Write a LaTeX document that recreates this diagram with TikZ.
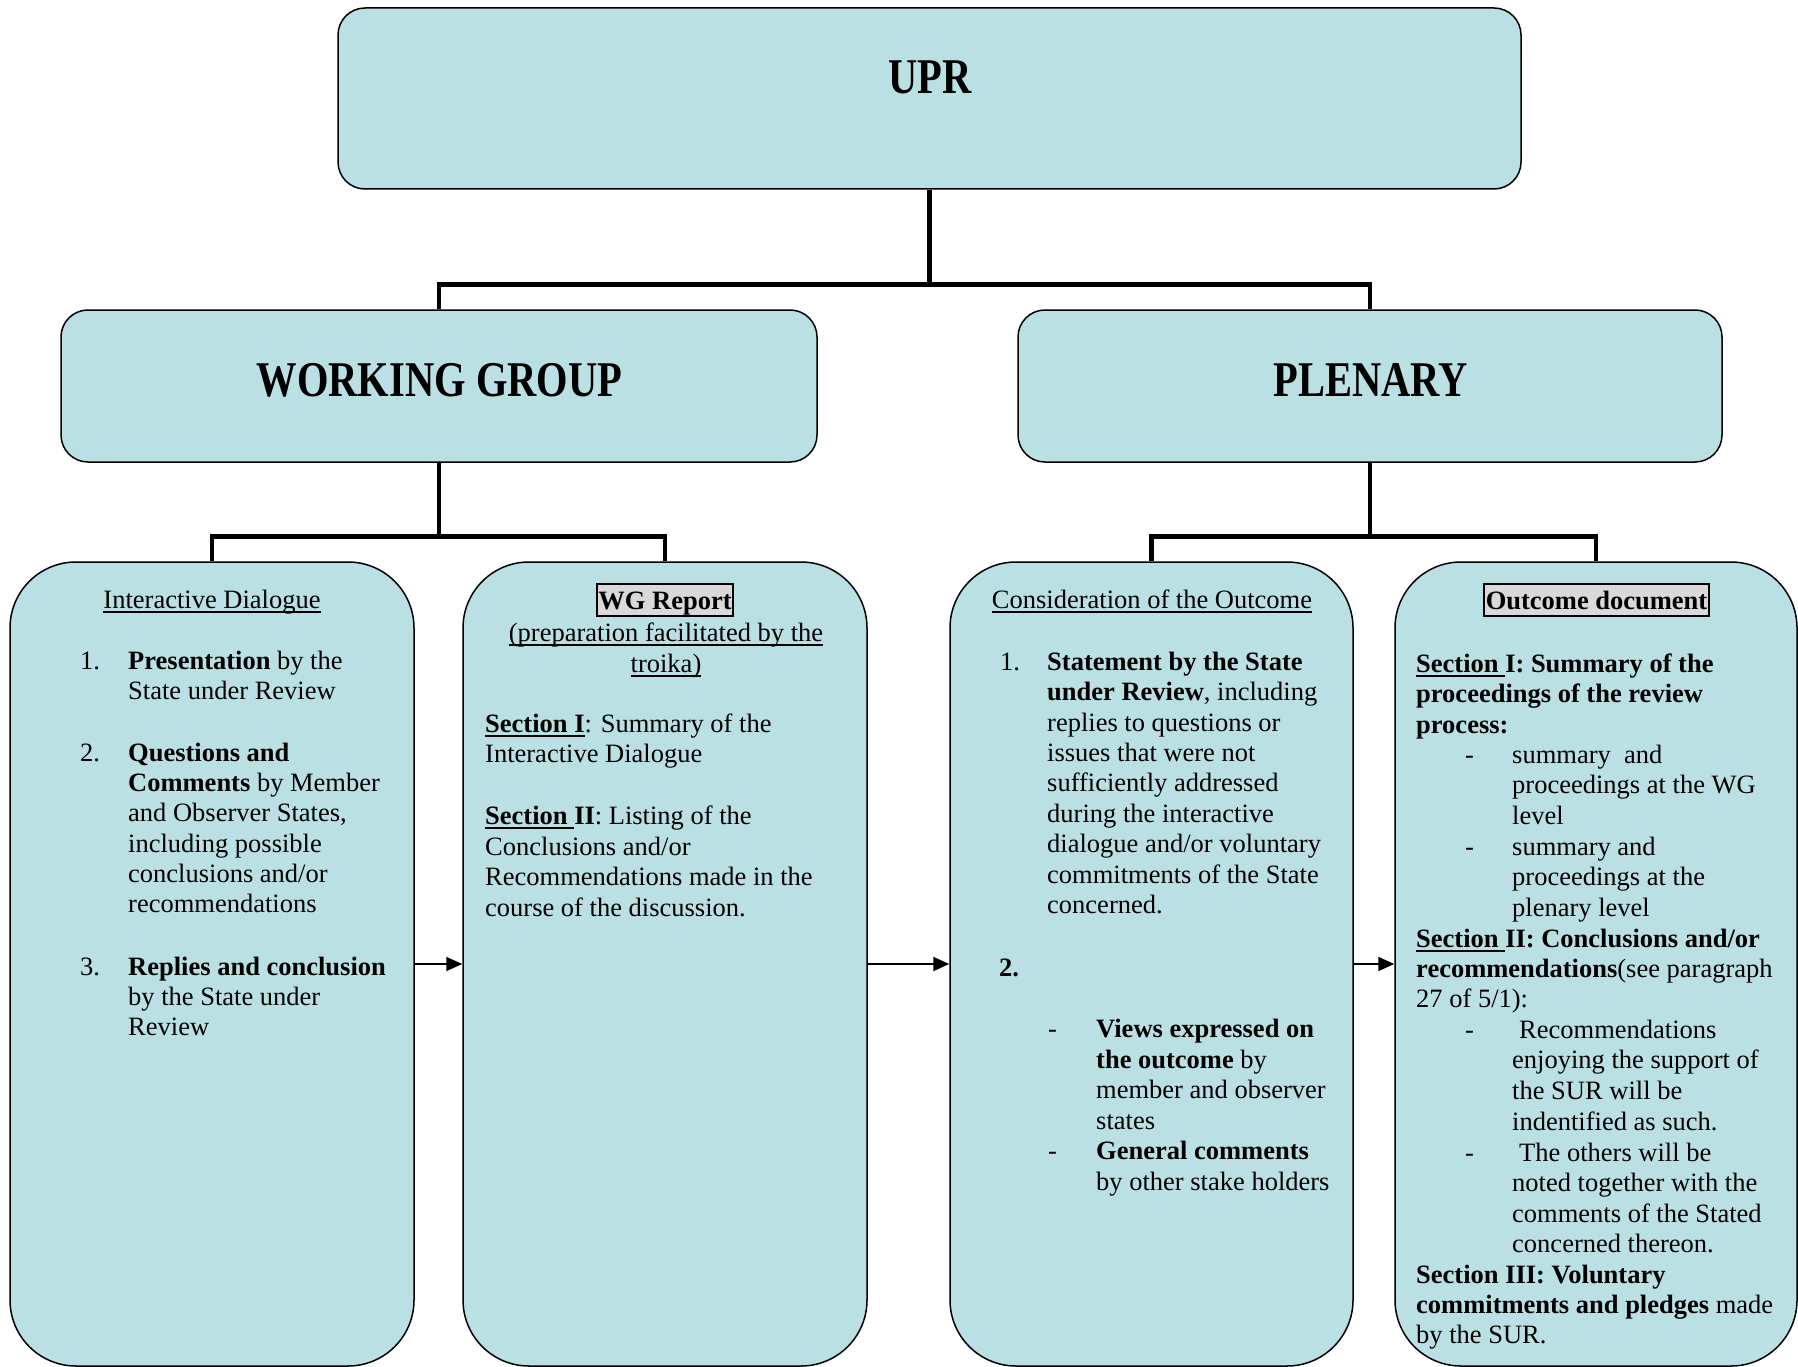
\documentclass[tikz,border=0pt]{standalone}
\usepackage{fontspec}
\setmainfont{Liberation Serif}
\newfontfamily\titlefont{Liberation Serif}[FakeStretch=0.81]
\usetikzlibrary{arrows.meta}
\definecolor{boxfill}{RGB}{186,224,227}
\definecolor{hlgray}{RGB}{217,217,217}
\newsavebox\ulbox
\newcommand\myul[1]{\sbox\ulbox{#1}\rlap{\rule[-5pt]{\wd\ulbox}{1.8pt}}\usebox\ulbox}
\newcounter{tl}
\newcommand\txtline[3]{\stepcounter{tl}\node[txt] (tl\arabic{tl}) at (#1,#2) {#3};}
\begin{document}
\begin{tikzpicture}[x=1pt,y=-1pt,
  body/.style={font=\fontsize{26.5}{30.4}\selectfont},
  txt/.style={body, anchor=base west, inner sep=0},
  ttl/.style={body, anchor=base, inner sep=0},
  bigttl/.style={anchor=base, inner sep=0, font=\titlefont\bfseries\fontsize{50}{52}\selectfont},
  topbox/.style={draw=black, line width=1.5pt, fill=boxfill, inner sep=0, rounded corners=27},
  colbox/.style={draw=black, line width=1.5pt, fill=boxfill, inner sep=0, rounded corners=66, minimum height=804},
  hl/.style={body, anchor=base, draw=black, line width=2pt, fill=hlgray, inner sep=0, text height=25, text depth=7},
  tree/.style={line width=4.8pt, line join=miter},
  arr/.style={line width=1.8pt, -{Triangle[length=16pt,width=14pt]}}]
\useasboundingbox (0,0) rectangle (1798,1367);

% top level boxes
\node[topbox, minimum width=1183, minimum height=181] (upr) at (929.5,98.5) {};
\node[topbox, minimum width=756, minimum height=152] (wg) at (439,386) {};
\node[topbox, minimum width=704, minimum height=152] (pl) at (1370,386) {};

% column boxes
\node[colbox, minimum width=404] (c1) at (212,964) {};
\node[colbox, minimum width=404] (c2) at (665,964) {};
\node[colbox, minimum width=403] (c3) at (1151.5,964) {};
\node[colbox, minimum width=402] (c4) at (1596,964) {};

% tree connectors
\draw[tree] (upr.south) -- ++(0,96);
\draw[tree] (wg.north) -- ++(0,-25) -| (pl.north);
\draw[tree] (wg.south) -- ++(0,75);
\draw[tree] (c1.north) -- ++(0,-25) -| (c2.north);
\draw[tree] (pl.south) -- ++(0,75);
\draw[tree] (c3.north) -- ++(0,-25) -| (c4.north);

% arrows
\draw[arr] (c1) -- (c2);
\draw[arr] (c2) -- (c3);
\draw[arr] (c3) -- (c4);

% titles
\node[bigttl] (uprt) at (930,94) {UPR};
\node[bigttl] (wgt) at (439.5,396) {WORKING GROUP};
\node[bigttl] (plt) at (1370.5,396) {PLENARY};

% column 1
\node[ttl] (c1t) at (212,608) {\myul{Interactive Dialogue}};
\txtline{80}{669}{1.}
\txtline{128}{669}{\textbf{Presentation} by the}
\txtline{128}{699}{State under Review}
\txtline{80}{761}{2.}
\txtline{128}{761}{\textbf{Questions and}}
\txtline{128}{791}{\textbf{Comments} by Member}
\txtline{128}{821}{and Observer States,}
\txtline{128}{852}{including possible}
\txtline{128}{882}{conclusions and/or}
\txtline{128}{912}{recommendations}
\txtline{80}{975}{3.}
\txtline{128}{975}{\textbf{Replies and conclusion}}
\txtline{128}{1005}{by the State under}
\txtline{128}{1035}{Review}

% column 2
\node[hl, minimum width=136] (wgr) at (665,609) {\textbf{WG Report}};
\node[ttl] (c2t1) at (666,641) {\myul{(preparation facilitated by the}};
\node[ttl] (c2t2) at (666,672) {\myul{troika)}};
\txtline{485}{732}{\myul{\textbf{Section I}}: Summary of the}
\txtline{485}{762}{Interactive Dialogue}
\txtline{485}{824}{\myul{\textbf{Section\ }}\textbf{II}: Listing of the}
\txtline{485}{855}{Conclusions and/or}
\txtline{485}{885}{Recommendations made in the}
\txtline{485}{916}{course of the discussion.}

% column 3
\node[ttl] (c3t) at (1152,608) {\myul{Consideration of the Outcome}};
\txtline{1000}{670}{1.}
\txtline{1047}{670}{\textbf{Statement by the State}}
\txtline{1047}{700}{\textbf{under Review}, including}
\txtline{1047}{731}{replies to questions or}
\txtline{1047}{761}{issues that were not}
\txtline{1047}{791}{sufficiently addressed}
\txtline{1047}{822}{during the interactive}
\txtline{1047}{852}{dialogue and/or voluntary}
\txtline{1047}{883}{commitments of the State}
\txtline{1047}{913}{concerned.}
\txtline{999}{976}{\textbf{2.}}
\txtline{1048}{1037}{-}
\txtline{1096}{1037}{\textbf{Views expressed on}}
\txtline{1096}{1068}{\textbf{the outcome} by}
\txtline{1096}{1098}{member and observer}
\txtline{1096}{1129}{states}
\txtline{1048}{1159}{-}
\txtline{1096}{1159}{\textbf{General comments}}
\txtline{1096}{1190}{by other stake holders}

% column 4
\node[hl, minimum width=225] (ocd) at (1596.5,609) {\textbf{Outcome document}};
\txtline{1416}{672}{\myul{\textbf{Section\ }}\textbf{I: Summary of the}}
\txtline{1416}{702}{\textbf{proceedings of the review}}
\txtline{1416}{733}{\textbf{process:}}
\txtline{1465}{763}{-}
\txtline{1512}{763}{summary\ \ and}
\txtline{1512}{793}{proceedings at the WG}
\txtline{1512}{824}{level}
\txtline{1465}{855}{-}
\txtline{1512}{855}{summary and}
\txtline{1512}{885}{proceedings at the}
\txtline{1512}{916}{plenary level}
\txtline{1416}{947}{\myul{\textbf{Section\ }}\textbf{II: Conclusions and/or}}
\txtline{1416}{977}{\textbf{recommendations}(see paragraph}
\txtline{1416}{1007}{27 of 5/1):}
\txtline{1465}{1038}{-}
\txtline{1519}{1038}{Recommendations}
\txtline{1512}{1068}{enjoying the support of}
\txtline{1512}{1099}{the SUR will be}
\txtline{1512}{1130}{indentified as such.}
\txtline{1465}{1161}{-}
\txtline{1519}{1161}{The others will be}
\txtline{1512}{1191}{noted together with the}
\txtline{1512}{1222}{comments of the Stated}
\txtline{1512}{1252}{concerned thereon.}
\txtline{1416}{1283}{\textbf{Section III: Voluntary}}
\txtline{1416}{1313}{\textbf{commitments and pledges} made}
\txtline{1416}{1343}{by the SUR.}
\end{tikzpicture}
\end{document}
